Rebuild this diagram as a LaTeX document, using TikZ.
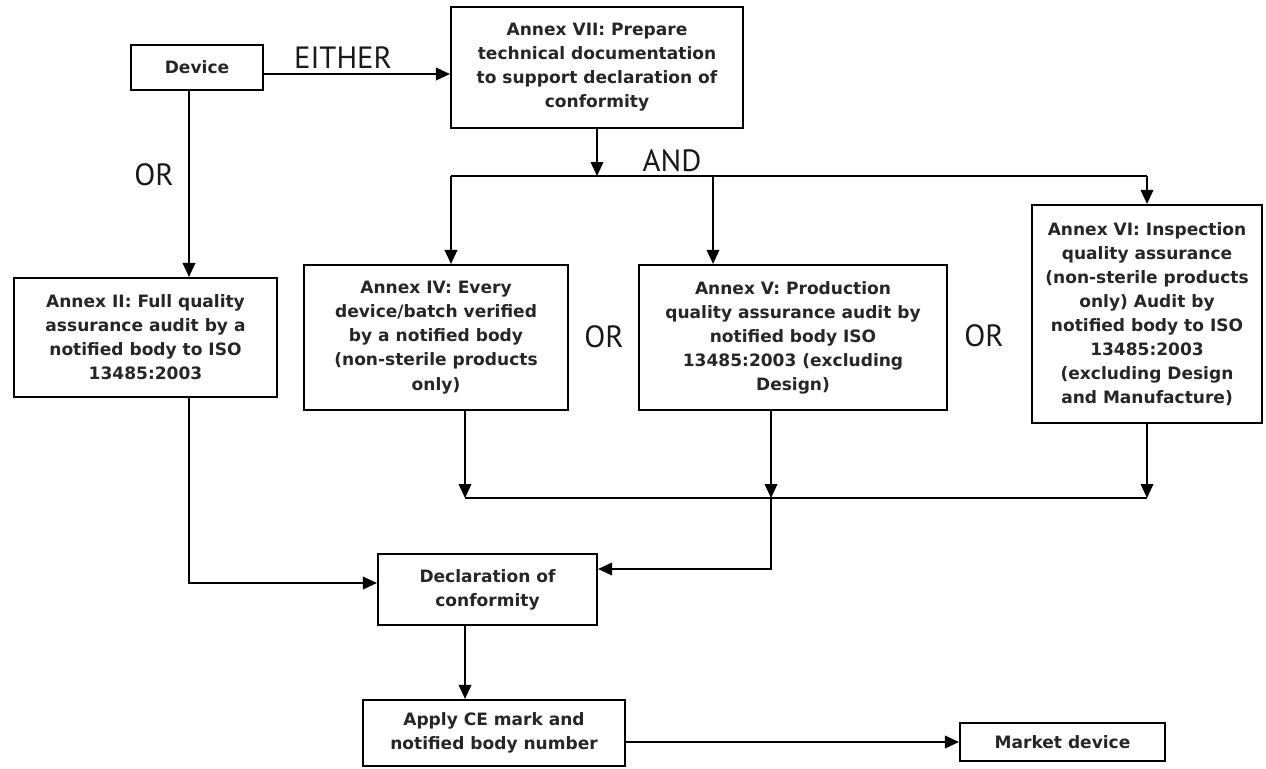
\documentclass[tikz,border=0pt]{standalone}
\usepackage{fontspec}
\setmainfont{DejaVu Sans}
\newfontfamily\lblfont{PT Sans}
\usetikzlibrary{arrows.meta,calc}
\tikzset{
  cearr/.style={-{Triangle[length=2.8mm,width=2.5mm]},line width=1.1pt},
  celine/.style={line width=1.1pt},
  block/.style={draw=black,line width=1.2pt,align=center,inner sep=2pt,text=black!85,
                font=\fontsize{9.7}{13.7}\selectfont\bfseries},
  lbl/.style={font=\lblfont\fontsize{17.5}{20}\selectfont,inner sep=0pt,text=black!90}
}

\begin{document}
\begin{tikzpicture}[x=0.02cm,y=-0.02cm]
\useasboundingbox (0,0) rectangle (1266,768);

\node[block, minimum width=2.64cm, minimum height=0.9cm] (dev) at (197,67.5) {Device};
\node[block, minimum width=5.84cm, minimum height=2.42cm] (a7) at (597,67.5)
  {Annex VII: Prepare\\ technical documentation\\ to support declaration of\\ conformity};

\node[block, minimum width=5.26cm, minimum height=2.38cm] (a2) at (145.5,337.5)
  {Annex II: Full quality\\ assurance audit by a\\ notified body to ISO\\ 13485:2003};
\node[block, minimum width=5.28cm, minimum height=2.9cm] (a4) at (436,337.5)
  {Annex IV: Every\\ device/batch verified\\ by a notified body\\ (non-sterile products\\ only)};
\node[block, minimum width=6.16cm, minimum height=2.9cm] (a5) at (793,337.5)
  {Annex V: Production\\ quality assurance audit by\\ notified body ISO\\ 13485:2003 (excluding\\ Design)};
\node[block, minimum width=4.6cm, minimum height=4.36cm] (a6) at (1147,314)
  {Annex VI: Inspection\\ quality assurance\\ (non-sterile products\\ only) Audit by\\ notified body to ISO\\ 13485:2003\\ (excluding Design\\ and Manufacture)};

\node[block, minimum width=4.38cm, minimum height=1.42cm] (doc) at (487.5,589.5)
  {Declaration of\\ conformity};
\node[block, minimum width=5.24cm, minimum height=1.32cm] (ce) at (494,733)
  {Apply CE mark and\\ notified body number};
\node[block, minimum width=4.1cm, minimum height=0.76cm] (mkt) at (1062.5,742)
  {Market device};

% labels
\node[lbl] (either) at (343,58) {EITHER};
\node[lbl] (or1) at (154,175) {OR};
\node[lbl] (and) at (672,161) {AND};
\node[lbl] (or2) at (604,337) {OR};
\node[lbl] (or3) at (984,336) {OR};

% top
\draw[cearr] ([yshift=-0.13cm]dev.east) -- ([yshift=-0.13cm]dev.east -| a7.west);
\draw[cearr] ([xshift=-0.16cm]dev.south) -- ([xshift=-0.16cm]dev.south |- a2.north);
\draw[cearr] (a7.south) -- ++(0,47) coordinate (andpt);
\draw[celine] ([xshift=0.3cm]a4.north |- andpt) -- (a6.north |- andpt);
\draw[cearr] ([xshift=0.3cm]a4.north |- andpt) -- ([xshift=0.3cm]a4.north);
\draw[cearr] ([xshift=-1.6cm]a5.north |- andpt) -- ([xshift=-1.6cm]a5.north);
\draw[cearr] (a6.north |- andpt) -- (a6.north);

% bottom
\coordinate (bb) at ($(a4.south)+(0,87)$);
\draw[cearr] ([xshift=0.58cm]a4.south) -- ([xshift=0.58cm]a4.south |- bb);
\draw[cearr] ([xshift=-0.44cm]a5.south) -- ([xshift=-0.44cm]a5.south |- bb);
\draw[cearr] (a6.south) -- (a6.south |- bb);
\draw[celine] ([xshift=0.58cm]a4.south |- bb) -- (a6.south |- bb);
\draw[cearr] ([xshift=-0.44cm]a5.south |- bb) |- ([yshift=0.41cm]doc.east);
\draw[cearr] ([xshift=-0.16cm]dev.south |- a2.south) |- ([yshift=0.13cm]doc.west);
\draw[cearr] ([xshift=-0.45cm]doc.south) -- ([xshift=-0.45cm]doc.south |- ce.north);
\draw[cearr] (ce.east |- mkt.west) -- (mkt.west);
\end{tikzpicture}
\end{document}
